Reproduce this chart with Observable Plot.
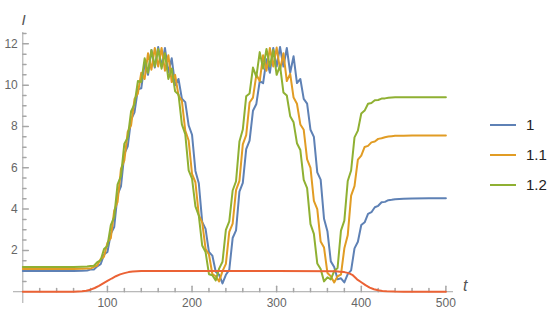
<!DOCTYPE html>
<html>
<head>
<meta charset="utf-8">
<script src="https://cdn.jsdelivr.net/npm/d3@7"></script>
<script src="https://cdn.jsdelivr.net/npm/@observablehq/plot@0.6"></script>
<style>
  html, body { margin: 0; padding: 0; background: #fff; }
  #wrap { position: relative; width: 550px; height: 311px; font-family: "Liberation Sans", Arial, sans-serif; }
  #legend { position: absolute; left: 490px; top: 0; }
  .item { position: absolute; left: 0; width: 60px; height: 20px; }
  .item .sw { position: absolute; left: 0; top: 9px; width: 26px; height: 2px; }
  .item .lb { position: absolute; left: 36px; top: 1px; font-size: 15px; color: #222; line-height: 18px; }
</style>
</head>
<body>
<div id="wrap"><div id="legend"></div></div>
<script>
// time grid shared by the three oscillating series
const T = [0,20,40,60,70,76,
  80,84,88,92,96,100,104,108,112,116,120,124,128,132,136,140,144,148,152,156,
  160,164,168,172,176,180,184,188,192,196,200,204,208,212,216,220,224,228,232,236,
  240,244,248,252,256,260,264,268,272,276,280,284,288,292,296,300,304,308,312,316,
  320,324,328,332,336,340,344,348,352,356,360,364,368,372,376,380,384,388,392,396,
  400,404,408,412,416,420,424,428,432,436,440,
  450,460,480,500];

const seriesNames = ["1", "1.1", "1.2"];
const seriesColors = ["#5E81B5", "#E19C24", "#8FB032"];

const blue = [1.0,1.0,1.0,1.0,1.01,1.03,
  1.07,1.08,1.23,1.33,1.8,1.92,2.8,3.13,4.7,5.1,
  6.68,7.04,8.34,8.68,9.8,9.85,11.05,10.5,11.7,10.85,
  11.85,10.9,11.8,10.6,11.3,10.0,10.3,9.35,9.18,8.05,
  7.6,5.85,5.25,3.38,3.04,1.92,1.75,0.97,0.82,0.4,
  0.82,1.06,2.6,2.97,4.85,5.27,6.9,7.32,8.76,9.09,
  10.2,10.1,11.25,10.6,11.8,10.9,11.85,10.9,11.8,10.6,
  11.4,10.1,10.3,9.34,9.11,7.84,7.5,5.78,5.43,3.53,
  2.93,1.47,1.2,0.6,0.65,0.45,0.85,1.03,2.1,2.42,
  3.23,3.36,3.77,3.85,4.09,4.16,4.33,4.35,4.43,4.45,4.48,
  4.5,4.51,4.52,4.52];

const orange = [1.1,1.1,1.1,1.1,1.11,1.12,
  1.12,1.2,1.27,1.58,1.7,2.37,2.59,3.93,4.35,5.95,
  6.36,7.75,8.06,9.33,9.6,10.6,10.3,11.55,10.75,11.8,
  10.9,11.8,10.7,11.45,10.15,10.5,9.5,9.24,7.8,7.32,
  5.7,5.3,3.71,3.36,2.07,1.8,0.86,0.75,0.5,1.0,
  1.35,2.9,3.3,4.92,5.37,7.13,7.58,9.16,9.4,10.5,
  10.2,11.45,10.7,11.8,10.9,11.82,10.75,11.55,10.2,10.55,
  9.4,9.1,8.1,7.84,6.41,6.0,4.4,4.0,2.43,2.14,
  0.91,0.75,0.45,0.75,0.83,2.1,2.73,4.65,5.11,6.4,
  6.59,7.01,7.06,7.23,7.27,7.4,7.43,7.48,7.51,7.53,7.55,
  7.55,7.56,7.56,7.56];

const green = [1.2,1.2,1.2,1.2,1.21,1.22,
  1.24,1.26,1.43,1.52,2.07,2.22,3.22,3.62,5.2,5.6,
  7.17,7.46,8.74,9.08,10.2,10.15,11.3,10.6,11.7,10.9,
  11.75,10.8,11.55,10.3,10.8,9.7,9.55,8.1,7.63,5.88,
  5.48,4.13,3.68,2.24,1.92,0.85,0.8,0.55,1.12,1.45,
  3.0,3.41,4.9,5.35,7.27,7.85,9.46,9.6,10.85,10.4,
  11.6,10.8,11.75,10.9,11.7,10.5,10.95,9.65,9.5,8.5,
  8.2,7.19,6.86,5.41,5.02,3.27,2.8,1.37,1.1,0.5,
  0.7,0.6,1.0,1.15,2.96,3.44,5.36,5.87,7.47,7.8,
  8.63,8.77,9.1,9.14,9.27,9.28,9.35,9.36,9.39,9.4,9.41,
  9.41,9.42,9.42,9.42];

// pulse curve
const redColor = "#EB6235";
const redT = [0,60,70,75,80,85,90,95,100,105,110,115,120,125,130,140,150,200,300,370,
  375,380,385,390,395,400,405,410,415,420,425,430,440,450,500];
const redV = [0,0,0.02,0.05,0.1,0.18,0.28,0.4,0.52,0.64,0.75,0.84,0.9,0.95,0.98,1,1,1,1,0.99,
  0.97,0.95,0.9,0.8,0.6,0.46,0.32,0.2,0.12,0.07,0.04,0.02,0.005,0,0];

// ticks
const xMajor = [100,200,300,400,500];
const xMinor = [20,40,60,80,120,140,160,180,220,240,260,280,320,340,360,380,420,440,460,480];
const yMajor = [2,4,6,8,10,12];
const yMinor = [0.5,1,1.5,2.5,3,3.5,4.5,5,5.5,6.5,7,7.5,8.5,9,9.5,10.5,11,11.5,12.5];

const axisColor = "#a6a6a6";
const labelColor = "#666";

const allSeries = [blue, orange, green];
const lineData = allSeries.map((vals, k) => T.map((t, i) => ({t, v: vals[i], s: seriesNames[k]})));
const redData = redT.map((t, i) => ({t, v: redV[i]}));

const tickShape = {draw(context, l) { context.moveTo(0, 0); context.lineTo(0, -l); }};

const chart = Plot.plot({
  width: 550,
  height: 311,
  marginLeft: 13,
  marginRight: 97,
  marginTop: 32,
  marginBottom: 8,
  x: {domain: [-11, 509], axis: null},
  y: {domain: [-0.57, 12.55], axis: null},
  style: {fontFamily: "'Liberation Sans', Arial, sans-serif", background: "white", overflow: "visible"},
  marks: [
    Plot.ruleY([0], {stroke: axisColor, strokeWidth: 1}),
    Plot.ruleX([0], {stroke: axisColor, strokeWidth: 1}),
    Plot.vector(xMajor, {x: d => d, y: 0, length: 5.5, rotate: 0, anchor: "start", shape: tickShape, stroke: axisColor, fill: "none"}),
    Plot.vector(xMinor, {x: d => d, y: 0, length: 3.2, rotate: 0, anchor: "start", shape: tickShape, stroke: axisColor, fill: "none"}),
    Plot.vector(yMajor, {x: 0, y: d => d, length: 5.5, rotate: 90, anchor: "start", shape: tickShape, stroke: axisColor, fill: "none"}),
    Plot.vector(yMinor, {x: 0, y: d => d, length: 3.2, rotate: 90, anchor: "start", shape: tickShape, stroke: axisColor, fill: "none"}),
    Plot.text(xMajor, {x: d => d, y: 0, text: d => String(d), dy: 11, fontSize: 12, fill: labelColor}),
    Plot.text(yMajor, {x: 0, y: d => d, text: d => String(d), dx: -5, textAnchor: "end", fontSize: 12, fill: labelColor}),
    ...lineData.map((d, k) => Plot.line(d, {x: "t", y: "v", stroke: seriesColors[k], strokeWidth: 2})),
    Plot.line(redData, {x: "t", y: "v", stroke: redColor, strokeWidth: 2}),
    Plot.text(["I"], {text: d => d, frameAnchor: "top-left", dx: 8, dy: -18, fontSize: 15, fontStyle: "italic", fill: "#555"}),
    Plot.text(["t"], {text: d => d, frameAnchor: "bottom-right", dx: 14, dy: -13, fontSize: 16, fontStyle: "italic", fill: "#555"})
  ]
});
document.getElementById("wrap").prepend(chart);

const legend = document.getElementById("legend");
const legendTops = [115, 145, 175];
seriesNames.forEach((name, k) => {
  const item = document.createElement("div");
  item.className = "item";
  item.style.top = legendTops[k] + "px";
  const sw = document.createElement("div");
  sw.className = "sw";
  sw.style.background = seriesColors[k];
  const lb = document.createElement("div");
  lb.className = "lb";
  lb.textContent = name;
  item.appendChild(sw);
  item.appendChild(lb);
  legend.appendChild(item);
});
</script>
</body>
</html>
